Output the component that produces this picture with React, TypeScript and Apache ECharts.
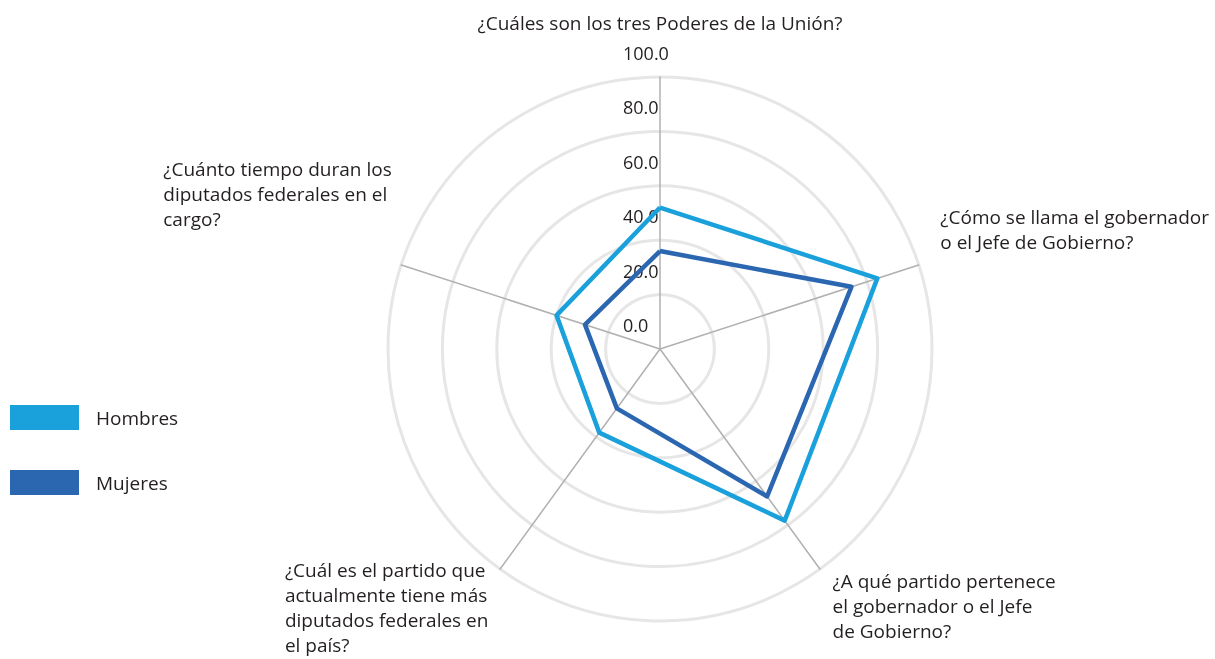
import React, { useEffect, useRef } from "react";
import * as echarts from "echarts";

const categories = [
  "¿Cuáles son los tres Poderes de la Unión?",
  "¿Cuánto tiempo duran los\ndiputados federales en el\ncargo?",
  "¿Cuál es el partido que\nactualmente tiene más\ndiputados federales en\nel país?",
  "¿A qué partido pertenece\nel gobernador o el Jefe\nde Gobierno?",
  "¿Cómo se llama el gobernador\no el Jefe de Gobierno?",
];
const seriesNames = ["Hombres", "Mujeres"];
const hombres = [52, 40, 38, 78, 84];
const mujeres = [36, 29, 27, 67, 74];
const axisMax = 100;

const FONT = "'Open Sans', sans-serif";
const TEXT = "#231f20";
const namePads = [
  [0, 0, 34, 0],
  [0, 2, 137, 0],
  [64, 7, 0, 0],
  [61, 0, 0, 8],
  [0, 0, 65, 14],
];
const nameVAlign = ["bottom", "middle", "middle", "middle", "middle"];

export default function App() {
  const ref = useRef<HTMLDivElement>(null);
  useEffect(() => {
    if (!ref.current) return;
    const chart = echarts.init(ref.current, undefined, { renderer: "svg" });
    const indicator = categories.map((c, i) => {
      const ind: any = {
        name: c,
        min: 0,
        max: axisMax,
        nameMoveOverlap: false,
        nameTextStyle: { padding: namePads[i], verticalAlign: nameVAlign[i] },
      };
      if (i === 0) {
        ind.axisLabel = {
          show: true,
          align: "left",
          verticalAlign: "bottom",
          lineHeight: 48,
          margin: 37,
          fontSize: 18,
          fontFamily: FONT,
          color: TEXT,
          formatter: (v: number) => v.toFixed(1),
        };
      }
      return ind;
    });
    chart.setOption({
      animation: false,
      legend: {
        data: seriesNames,
        orient: "vertical",
        left: 10,
        top: 405,
        padding: 0,
        icon: "rect",
        itemWidth: 69,
        itemHeight: 25,
        itemGap: 40,
        itemStyle: { borderWidth: 0 },
        textStyle: {
          fontSize: 19,
          fontFamily: FONT,
          color: TEXT,
          padding: [0, 0, 0, 12],
        },
      },
      radar: {
        center: [660, 349],
        radius: 272,
        startAngle: 90,
        shape: "circle",
        splitNumber: 5,
        nameGap: 8,
        indicator,
        axisName: {
          color: TEXT,
          fontSize: 19,
          fontFamily: FONT,
          lineHeight: 25,
          formatter: (name: string) => `{l|${name}}`,
          rich: {
            l: { align: "left", fontSize: 19, fontFamily: FONT, color: TEXT, lineHeight: 25 },
          },
        },
        axisLine: { lineStyle: { color: "#b0b0b0", width: 1.5 } },
        splitLine: { lineStyle: { color: "#e6e6e6", width: 3 } },
        splitArea: { show: false },
        axisTick: { show: false },
      },
      series: [
        {
          type: "radar",
          name: seriesNames[0],
          symbol: "none",
          itemStyle: { color: "#1aa1db" },
          lineStyle: { color: "#1aa1db", width: 4.5 },
          data: [{ name: seriesNames[0], value: hombres }],
        },
        {
          type: "radar",
          name: seriesNames[1],
          symbol: "none",
          itemStyle: { color: "#2b66b1" },
          lineStyle: { color: "#2b66b1", width: 4.5 },
          data: [{ name: seriesNames[1], value: mujeres }],
        },
      ],
    });
    return () => chart.dispose();
  }, []);
  return (
    <div
      ref={ref}
      style={{ position: "fixed", left: 0, top: 0, width: 1215, height: 659 }}
    />
  );
}
